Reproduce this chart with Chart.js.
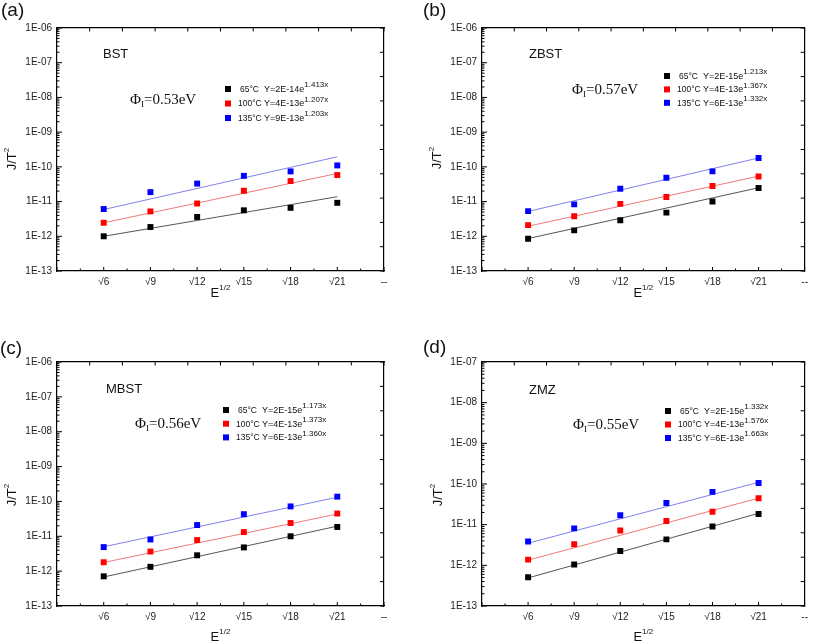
<!DOCTYPE html>
<html>
<head>
<meta charset="utf-8">
<script src="https://cdn.jsdelivr.net/npm/chart.js@4/dist/chart.umd.min.js"></script>
<style>
  html, body { margin: 0; padding: 0; background: #fff; }
  #wrap { position: relative; width: 813px; height: 641px; overflow: hidden; }
  canvas { position: absolute; }
</style>
</head>
<body>
<div id="wrap">
  <canvas id="pa" width="406" height="315" style="left:0;top:0"></canvas>
  <canvas id="pb" width="407" height="315" style="left:406px;top:0"></canvas>
  <canvas id="pc" width="406" height="326" style="left:0;top:315px"></canvas>
  <canvas id="pd" width="407" height="326" style="left:406px;top:315px"></canvas>
</div>
<script>
// x categories (E^1/2), last label is the axis end mark
const xTickLabels = ['√6', '√9', '√12', '√15', '√18', '√21', '--'];
const yLabels6 = ['1E-13', '1E-12', '1E-11', '1E-10', '1E-09', '1E-08', '1E-07', '1E-06'];
const yLabels7 = ['1E-13', '1E-12', '1E-11', '1E-10', '1E-09', '1E-08', '1E-07'];
const temps = ['65°C', '100°C', '135°C'];

// (a) BST
const a65  = [1.0e-12, 1.85e-12, 3.6e-12, 5.6e-12, 6.6e-12, 9.2e-12];
const a100 = [2.45e-12, 5.2e-12, 8.8e-12, 2.05e-11, 3.9e-11, 5.8e-11];
const a135 = [6.1e-12, 1.87e-11, 3.3e-11, 5.5e-11, 7.4e-11, 1.1e-10];
const aFit65 = [1.0e-12, 1.38e-11], aFit100 = [2.45e-12, 6.45e-11], aFit135 = [5.9e-12, 1.95e-10];
const aEq = ['Y=2E-14e', 'Y=4E-13e', 'Y=9E-13e'], aExp = ['1.413x', '1.207x', '1.203x'];

// (b) ZBST
const b65  = [8.5e-13, 1.48e-12, 2.9e-12, 4.8e-12, 1.0e-11, 2.45e-11];
const b100 = [2.1e-12, 3.8e-12, 8.6e-12, 1.35e-11, 2.8e-11, 5.3e-11];
const b135 = [5.3e-12, 8.3e-12, 2.35e-11, 4.85e-11, 7.4e-11, 1.8e-10];
const bFit65 = [8.6e-13, 2.5e-11], bFit100 = [1.95e-12, 5.4e-11], bFit135 = [5.2e-12, 1.8e-10];
const bEq = ['Y=2E-15e', 'Y=4E-13e', 'Y=6E-13e'], bExp = ['1.213x', '1.367x', '1.332x'];

// (c) MBST
const c65  = [7.1e-13, 1.33e-12, 2.85e-12, 4.8e-12, 1.0e-11, 1.85e-11];
const c100 = [1.8e-12, 3.65e-12, 7.8e-12, 1.32e-11, 2.4e-11, 4.5e-11];
const c135 = [4.9e-12, 8.1e-12, 2.1e-11, 4.3e-11, 7.2e-11, 1.37e-10];
const cFit65 = [6.8e-13, 1.95e-11], cFit100 = [1.77e-12, 4.35e-11], cFit135 = [5.0e-12, 1.32e-10];
const cEq = ['Y=2E-15e', 'Y=4E-13e', 'Y=6E-13e'], cExp = ['1.173x', '1.373x', '1.360x'];

// (d) ZMZ
const d65  = [5.1e-13, 1.05e-12, 2.25e-12, 4.35e-12, 9.0e-12, 1.82e-11];
const d100 = [1.38e-12, 3.3e-12, 7.2e-12, 1.23e-11, 2.08e-11, 4.45e-11];
const d135 = [3.85e-12, 8.1e-12, 1.7e-11, 3.4e-11, 6.4e-11, 1.06e-10];
const dFit65 = [4.9e-13, 1.9e-11], dFit100 = [1.34e-12, 4.5e-11], dFit135 = [3.5e-12, 1.1e-10];
const dEq = ['Y=2E-15e', 'Y=4E-13e', 'Y=6E-13e'], dExp = ['1.332x', '1.576x', '1.663x'];

const SANS = '"Liberation Sans", Arial, sans-serif';
const SERIF = '"Liberation Serif", "Times New Roman", serif';
const dotColors = ['#000000', '#ff0000', '#0000ff'];
const lineColors = ['#555555', '#f07a7a', '#8080f0'];

function pts(vals) { return vals.map((v, i) => ({ x: i + 1, y: v })); }
function fitPts(f) { return [{ x: 1, y: f[0] }, { x: 6, y: f[1] }]; }

// inward tick marks on all four sides
const inwardTicks = {
  id: 'inwardTicks',
  afterDraw(chart) {
    const ctx = chart.ctx, a = chart.chartArea;
    ctx.save();
    ctx.strokeStyle = '#000';
    ctx.lineWidth = 1;
    ctx.beginPath();
    chart.scales.x.ticks.forEach(t => {
      const px = chart.scales.x.getPixelForValue(t.value);
      const len = Number.isInteger(t.value) ? 4 : 2.5;
      ctx.moveTo(px, a.bottom); ctx.lineTo(px, a.bottom - len);
    });
    chart.scales.x2.ticks.forEach(t => {
      const px = chart.scales.x2.getPixelForValue(t.value);
      ctx.moveTo(px, a.top); ctx.lineTo(px, a.top + 3.5);
    });
    chart.scales.y.ticks.forEach(t => {
      const py = chart.scales.y.getPixelForValue(t.value);
      const len = t.major ? 5 : 2.5;
      ctx.moveTo(a.left, py); ctx.lineTo(a.left + len, py);
    });
    chart.scales.y2.ticks.forEach(t => {
      const py = chart.scales.y2.getPixelForValue(t.value);
      ctx.moveTo(a.right, py); ctx.lineTo(a.right - 4, py);
    });
    ctx.stroke();
    ctx.restore();
  }
};

function textPlugin(p) {
  return {
    id: 'panelText',
    afterDraw(chart) {
      const ctx = chart.ctx, a = chart.chartArea;
      ctx.save();
      ctx.fillStyle = '#111';
      ctx.textBaseline = 'middle';
      ctx.textAlign = 'left';
      // panel letter
      ctx.font = '19px ' + SANS;
      ctx.fillText(p.letter, p.letterAt[0], p.letterAt[1]);
      // sample name
      ctx.font = '13px ' + SANS;
      ctx.fillText(p.name, p.nameAt[0], p.nameAt[1]);
      // barrier height
      let x = p.phiAt[0], y = p.phiAt[1];
      ctx.font = '15px ' + SERIF;
      ctx.fillText('Φ', x, y);
      x += ctx.measureText('Φ').width;
      ctx.font = '9px ' + SERIF;
      ctx.fillText('I', x, y + 5);
      x += ctx.measureText('I').width;
      ctx.font = '15px ' + SERIF;
      ctx.fillText(p.phi, x, y);
      // legend
      for (let i = 0; i < 3; i++) {
        const mx = p.legendAt[0], my = p.legendAt[1] + i * p.legendAt[2];
        ctx.fillStyle = dotColors[i];
        ctx.fillRect(mx - 3, my - 3, 6, 6);
        ctx.fillStyle = '#111';
        ctx.font = '8.5px ' + SANS;
        ctx.fillText(temps[i], mx + (i === 0 ? 12 : 10), my + 0.5);
        ctx.font = '9px ' + SANS;
        ctx.fillText(p.eq[i], mx + 36, my + 0.5);
        const w = ctx.measureText(p.eq[i]).width;
        ctx.font = '8px ' + SANS;
        ctx.fillText(p.exp[i], mx + 36 + w, my - 4);
      }
      // axis titles
      ctx.font = '13px ' + SANS;
      const cx = (a.left + a.right) / 2;
      const ew = ctx.measureText('E').width;
      ctx.font = '8px ' + SANS;
      const sw = ctx.measureText('1/2').width;
      const ex = cx - (ew + sw) / 2;
      ctx.font = '13px ' + SANS;
      ctx.fillText('E', ex, p.xTitleY);
      ctx.font = '8px ' + SANS;
      ctx.fillText('1/2', ex + ew, p.xTitleY - 5);

      ctx.translate(p.yTitleAt[0], p.yTitleAt[1]);
      ctx.rotate(-Math.PI / 2);
      ctx.font = '13px ' + SANS;
      const jw = ctx.measureText('J/T').width;
      ctx.font = '8px ' + SANS;
      const tw = ctx.measureText('2').width;
      ctx.font = '13px ' + SANS;
      ctx.fillText('J/T', -(jw + tw) / 2, 0);
      ctx.font = '8px ' + SANS;
      ctx.fillText('2', -(jw + tw) / 2 + jw, -5);
      ctx.restore();
    }
  };
}

function makeChart(id, p) {
  const yMin = parseFloat(p.yLabels[0]);
  const yMax = parseFloat(p.yLabels[p.yLabels.length - 1]);
  const datasets = [];
  p.series.forEach((vals, i) => {
    datasets.push({
      data: pts(vals), showLine: false, pointStyle: 'rect', pointRadius: 4.2,
      backgroundColor: dotColors[i], borderWidth: 0, order: 1
    });
  });
  p.fits.forEach((f, i) => {
    datasets.push({
      data: fitPts(f), showLine: true, pointRadius: 0, borderColor: lineColors[i],
      borderWidth: 1, order: 2
    });
  });
  const borderOpt = { color: '#000', width: 1.2 };
  const gridOpt = { display: true, drawOnChartArea: false, drawTicks: false };
  new Chart(document.getElementById(id), {
    type: 'scatter',
    data: { datasets },
    options: {
      responsive: false,
      animation: false,
      layout: { padding: 0 },
      plugins: { legend: { display: false }, tooltip: { enabled: false } },
      scales: {
        x: {
          type: 'linear', position: 'bottom', min: 0, max: 7,
          afterFit: s => { s.height = p.bottomH; },
          grid: gridOpt, border: borderOpt,
          ticks: {
            stepSize: 0.5, autoSkip: false, maxRotation: 0, padding: 5,
            color: '#222', font: { family: SANS, size: 10 },
            callback: v => (Number.isInteger(v) && v >= 1) ? xTickLabels[v - 1] : ''
          }
        },
        x2: {
          type: 'linear', position: 'top', min: 0, max: 10,
          afterFit: s => { s.height = p.topH; },
          grid: gridOpt, border: borderOpt,
          ticks: { display: false, stepSize: 1 }
        },
        y: {
          type: 'logarithmic', position: 'left', min: yMin, max: yMax,
          afterFit: s => { s.width = p.leftW; },
          afterBuildTicks: s => {
            const t = [];
            p.yLabels.forEach((lab, k) => {
              const base = parseFloat(lab);
              t.push({ value: base, major: true });
              if (k < p.yLabels.length - 1) {
                for (let m = 2; m <= 9; m++) t.push({ value: m * base, major: false });
              }
            });
            s.ticks = t;
          },
          grid: gridOpt, border: borderOpt,
          ticks: {
            autoSkip: false, padding: 5, color: '#222', font: { family: SANS, size: 10 },
            callback: function (v, i, ticks) {
              if (!ticks[i].major) return '';
              return p.yLabels.find(l => Math.abs(parseFloat(l) / v - 1) < 1e-6) || '';
            }
          }
        },
        y2: {
          type: 'linear', position: 'right', min: 0, max: 10,
          afterFit: s => { s.width = p.rightW; },
          grid: gridOpt, border: borderOpt,
          ticks: { display: false, stepSize: 1 }
        }
      }
    },
    plugins: [inwardTicks, textPlugin(p)]
  });
}

makeChart('pa', {
  series: [a65, a100, a135], fits: [aFit65, aFit100, aFit135], yLabels: yLabels6,
  eq: aEq, exp: aExp, letter: '(a)', name: 'BST', phi: '=0.53eV',
  leftW: 57, rightW: 22, topH: 28, bottomH: 44,
  letterAt: [1, 11], nameAt: [103, 54], phiAt: [130, 100], legendAt: [228, 89, 14.5],
  xTitleY: 293, yTitleAt: [12, 159]
});
makeChart('pb', {
  series: [b65, b100, b135], fits: [bFit65, bFit100, bFit135], yLabels: yLabels6,
  eq: bEq, exp: bExp, letter: '(b)', name: 'ZBST', phi: '=0.57eV',
  leftW: 76, rightW: 5, topH: 28, bottomH: 44,
  letterAt: [17, 11], nameAt: [123, 54], phiAt: [166, 90], legendAt: [261, 76, 13.4],
  xTitleY: 293, yTitleAt: [31, 158]
});
makeChart('pc', {
  series: [c65, c100, c135], fits: [cFit65, cFit100, cFit135], yLabels: yLabels6,
  eq: cEq, exp: cExp, letter: '(c)', name: 'MBST', phi: '=0.56eV',
  leftW: 57, rightW: 22, topH: 47, bottomH: 35,
  letterAt: [0, 34], nameAt: [106, 74], phiAt: [135, 109], legendAt: [226, 95, 13.7],
  xTitleY: 322, yTitleAt: [12, 180]
});
makeChart('pd', {
  series: [d65, d100, d135], fits: [dFit65, dFit100, dFit135], yLabels: yLabels7,
  eq: dEq, exp: dExp, letter: '(d)', name: 'ZMZ', phi: '=0.55eV',
  leftW: 76, rightW: 5, topH: 47, bottomH: 35,
  letterAt: [17, 33], nameAt: [123, 75], phiAt: [167, 110], legendAt: [262, 96, 13.5],
  xTitleY: 322, yTitleAt: [32, 180]
});
</script>
</body>
</html>
